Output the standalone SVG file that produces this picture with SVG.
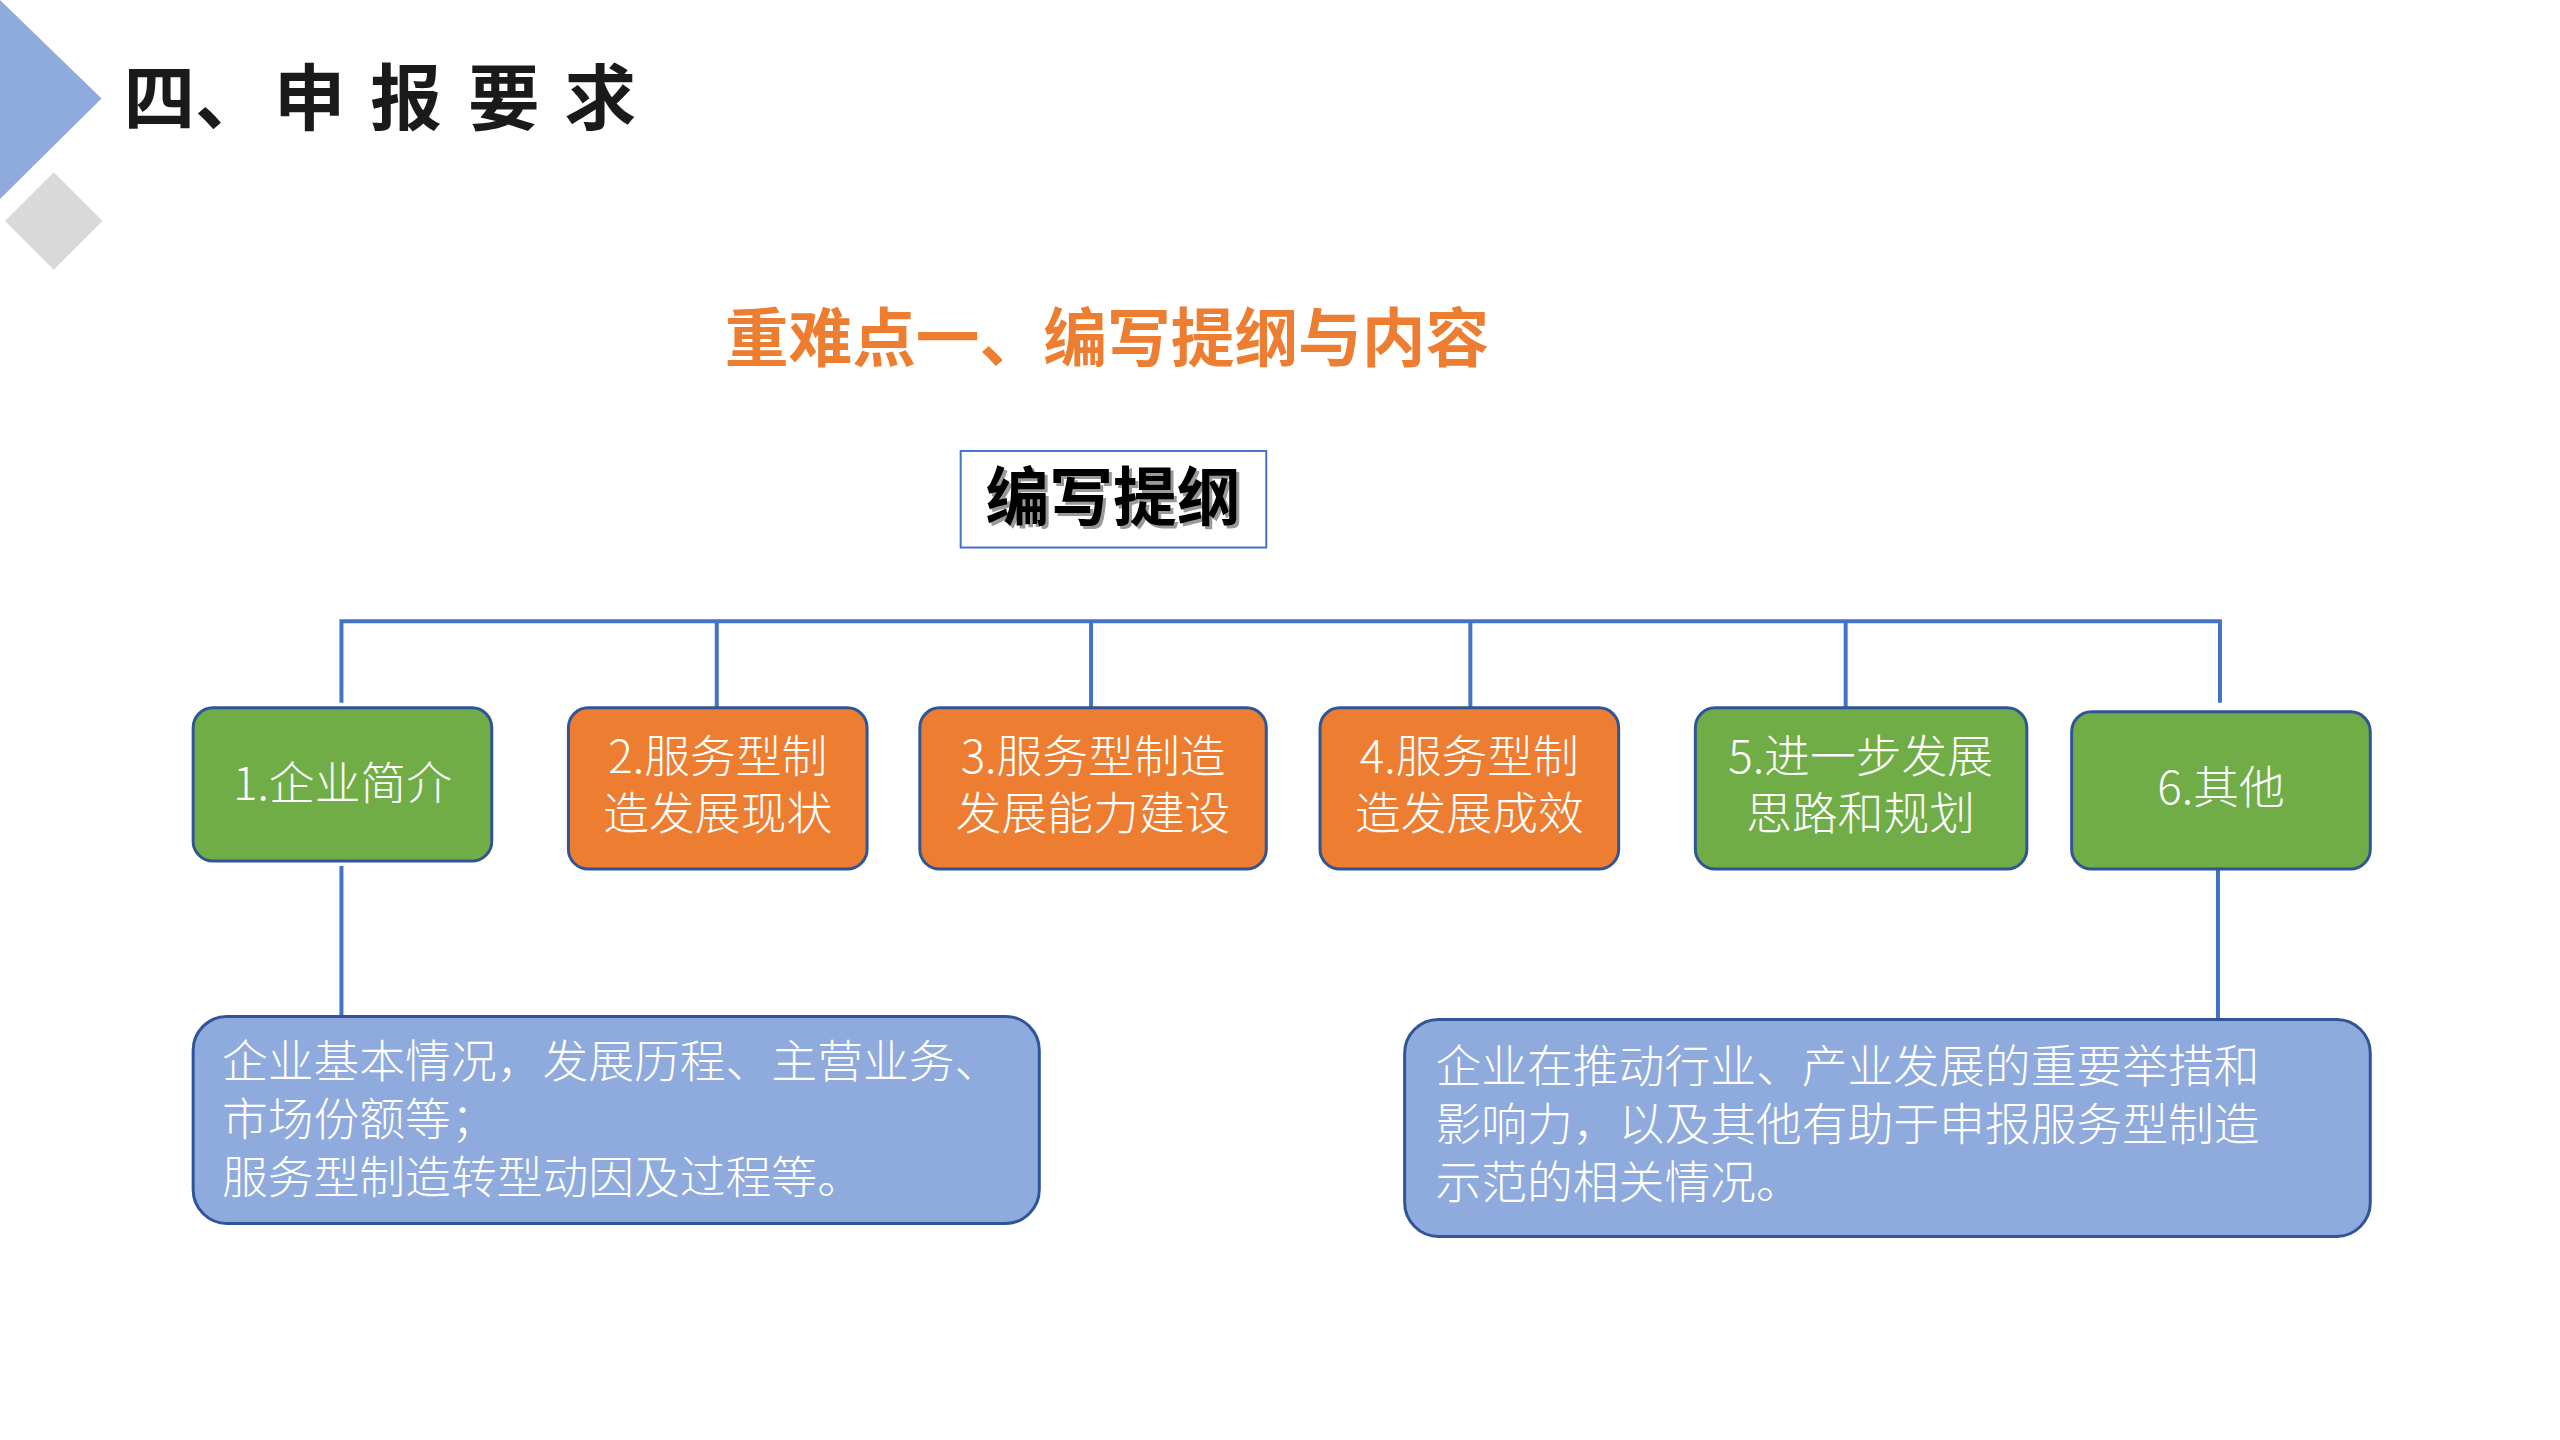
<svg xmlns="http://www.w3.org/2000/svg" width="2560" height="1440" viewBox="0 0 2560 1440">
<style>
.t{font-family:"Noto Sans CJK SC","Liberation Sans",sans-serif}
.bx{stroke:#2F5597;stroke-width:3}
.g{fill:#70AD47}.o{fill:#ED7D31}.b{fill:#8FAADC}
.w{fill:#fff;font-size:46px;font-weight:300}
.c{stroke:#4472C4;stroke-width:4;fill:none}
</style>
<rect width="2560" height="1440" fill="#fff"/>
<g transform="scale(0.9955)">
<polygon points="0,0 102,99 0,200" fill="#8FAADC"/>
<polygon points="54,173 103,222 54,271 5,222" fill="#D9D9D9"/>
<text class="t" font-size="72" font-weight="700" fill="#1a1a1a"><tspan x="124" y="125">四</tspan><tspan x="196" y="125">、</tspan><tspan x="275" y="125">申</tspan><tspan x="372" y="125">报</tspan><tspan x="470" y="125">要</tspan><tspan x="567" y="125">求</tspan></text>
<text class="t" x="1112" y="363" font-size="64" font-weight="700" fill="#ED7D31" text-anchor="middle">重难点一、编写提纲与内容</text>
<g id="root">
<rect x="965" y="453" width="307" height="97" fill="#fff" stroke="#4472C4" stroke-width="2"/>
<text class="t" x="1121" y="525" font-size="64" font-weight="700" fill="#999" text-anchor="middle">编写提纲</text>
<text class="t" x="1118" y="522" font-size="64" font-weight="700" fill="#000" text-anchor="middle">编写提纲</text>
</g>
<g id="connectors">
<path class="c" d="M343,706V624H2230V706M720,624V711M1096,624V711M1477,624V711M1854,624V711"/>
<path class="c" d="M343,870V1021M2228,873V1024"/>
</g>
<g id="n1"><rect class="bx g" x="194" y="711" width="300" height="154" rx="20"/><text class="t w" x="344" y="804" text-anchor="middle">1.企业简介</text></g>
<g id="n2"><rect class="bx o" x="571" y="711" width="300" height="162" rx="20"/><text class="t w" text-anchor="middle"><tspan x="721" y="776">2.服务型制</tspan><tspan x="721" y="834">造发展现状</tspan></text></g>
<g id="n3"><rect class="bx o" x="924" y="711" width="348" height="162" rx="20"/><text class="t w" text-anchor="middle"><tspan x="1098" y="776">3.服务型制造</tspan><tspan x="1098" y="834">发展能力建设</tspan></text></g>
<g id="n4"><rect class="bx o" x="1326" y="711" width="300" height="162" rx="20"/><text class="t w" text-anchor="middle"><tspan x="1476" y="776">4.服务型制</tspan><tspan x="1476" y="834">造发展成效</tspan></text></g>
<g id="n5"><rect class="bx g" x="1703" y="711" width="333" height="162" rx="20"/><text class="t w" text-anchor="middle"><tspan x="1869" y="776">5.进一步发展</tspan><tspan x="1869" y="834">思路和规划</tspan></text></g>
<g id="n6"><rect class="bx g" x="2081" y="715" width="300" height="158" rx="20"/><text class="t w" x="2231" y="808" text-anchor="middle">6.其他</text></g>
<g id="n7"><rect class="bx b" x="194" y="1021" width="850" height="208" rx="34"/><text class="t w"><tspan x="223" y="1083">企业基本情况，发展历程、主营业务、</tspan><tspan x="223" y="1141">市场份额等；</tspan><tspan x="223" y="1199">服务型制造转型动因及过程等。</tspan></text></g>
<g id="n8"><rect class="bx b" x="1411" y="1024" width="970" height="218" rx="34"/><text class="t w"><tspan x="1442" y="1088">企业在推动行业、产业发展的重要举措和</tspan><tspan x="1442" y="1146">影响力，以及其他有助于申报服务型制造</tspan><tspan x="1442" y="1204">示范的相关情况。</tspan></text></g>
</g>
</svg>
